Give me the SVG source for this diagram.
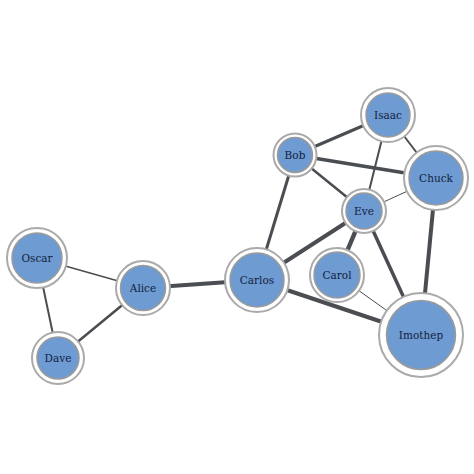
<svg xmlns="http://www.w3.org/2000/svg" width="474" height="474" viewBox="0 0 474 474">
<style>
.o{fill:#fff;stroke:#aaa;stroke-width:2}
.i{fill:#6d9bd2;stroke:#9a9a9a;stroke-width:1.5}
.e{stroke:#4a4d51;stroke-linecap:round;fill:none}
text{font-family:"DejaVu Serif","Liberation Serif",serif;font-size:10.5px;fill:#14213d;text-anchor:middle;dominant-baseline:central}
</style>
<rect width="474" height="474" fill="#fff"/>
<g id="edges">
<line class="e" x1="37" y1="258" x2="143" y2="288" stroke-width="1.5"/>
<line class="e" x1="37" y1="258" x2="58" y2="358" stroke-width="2"/>
<line class="e" x1="58" y1="358" x2="143" y2="288" stroke-width="2.5"/>
<line class="e" x1="143" y1="288" x2="257" y2="280" stroke-width="4"/>
<line class="e" x1="257" y1="280" x2="295" y2="155" stroke-width="3"/>
<line class="e" x1="257" y1="280" x2="364" y2="211" stroke-width="4"/>
<line class="e" x1="257" y1="280" x2="421" y2="335" stroke-width="4"/>
<line class="e" x1="295" y1="155" x2="388" y2="115" stroke-width="3"/>
<line class="e" x1="295" y1="155" x2="436" y2="178" stroke-width="3.5"/>
<line class="e" x1="295" y1="155" x2="364" y2="211" stroke-width="2.5"/>
<line class="e" x1="388" y1="115" x2="364" y2="211" stroke-width="2"/>
<line class="e" x1="388" y1="115" x2="436" y2="178" stroke-width="2"/>
<line class="e" x1="364" y1="211" x2="436" y2="178" stroke-width="1"/>
<line class="e" x1="364" y1="211" x2="337" y2="275" stroke-width="4.5"/>
<line class="e" x1="364" y1="211" x2="421" y2="335" stroke-width="3.5"/>
<line class="e" x1="337" y1="275" x2="421" y2="335" stroke-width="1"/>
<line class="e" x1="436" y1="178" x2="421" y2="335" stroke-width="4"/>
</g>
<g id="Oscar"><circle class="o" cx="37" cy="258" r="30"/><circle class="i" cx="37" cy="258" r="25"/><text x="37" y="258">Oscar</text></g>
<g id="Alice"><circle class="o" cx="143" cy="288" r="27"/><circle class="i" cx="143" cy="288" r="22.5"/><text x="143" y="288">Alice</text></g>
<g id="Dave"><circle class="o" cx="58" cy="358" r="26"/><circle class="i" cx="58" cy="358" r="21"/><text x="58" y="358">Dave</text></g>
<g id="Carlos"><circle class="o" cx="257" cy="280" r="32"/><circle class="i" cx="257" cy="280" r="27"/><text x="257" y="280">Carlos</text></g>
<g id="Bob"><circle class="o" cx="295" cy="155" r="21.5"/><circle class="i" cx="295" cy="155" r="17.5"/><text x="295" y="155">Bob</text></g>
<g id="Isaac"><circle class="o" cx="388" cy="115" r="27"/><circle class="i" cx="388" cy="115" r="22"/><text x="388" y="115">Isaac</text></g>
<g id="Chuck"><circle class="o" cx="436" cy="178" r="32"/><circle class="i" cx="436" cy="178" r="27"/><text x="436" y="178">Chuck</text></g>
<g id="Eve"><circle class="o" cx="364" cy="211" r="22"/><circle class="i" cx="364" cy="211" r="18"/><text x="364" y="211">Eve</text></g>
<g id="Carol"><circle class="o" cx="337" cy="275" r="27"/><circle class="i" cx="337" cy="275" r="23"/><text x="337" y="275">Carol</text></g>
<g id="Imothep"><circle class="o" cx="421" cy="335" r="42"/><circle class="i" cx="421" cy="335" r="34.5"/><text x="421" y="335">Imothep</text></g>
</svg>
